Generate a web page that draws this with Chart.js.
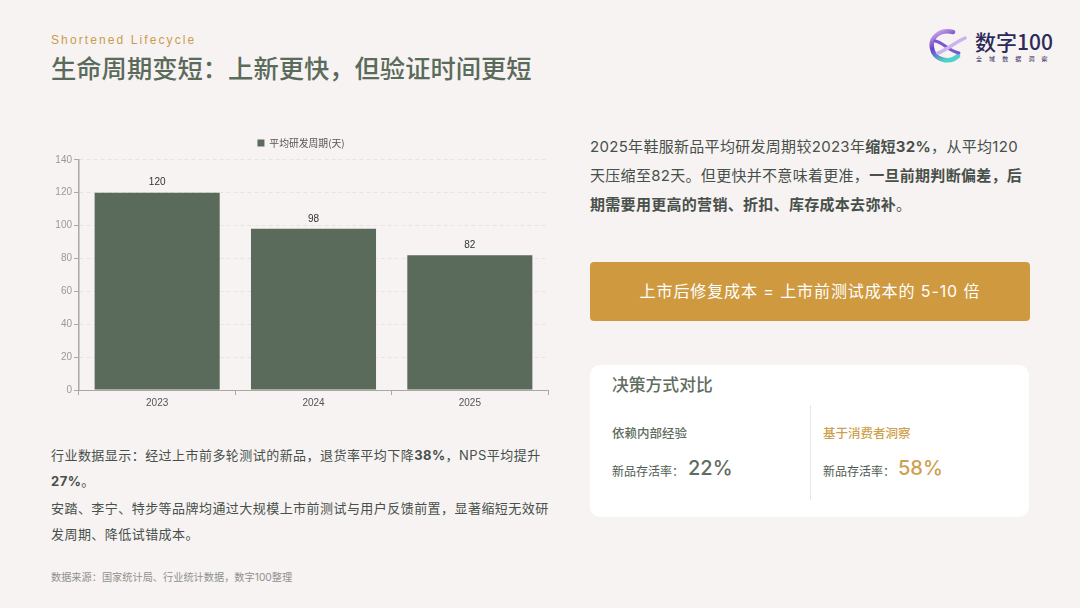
<!DOCTYPE html>
<html lang="zh">
<head>
<meta charset="utf-8">
<title>生命周期变短</title>
<script src="https://cdn.jsdelivr.net/npm/chart.js@4/dist/chart.umd.js"></script>
<style>
  html, body { margin: 0; padding: 0; }
  body { width: 1080px; height: 608px; position: relative; overflow: hidden; background: #f7f3f2;
    font-family: "Inter", "Noto Sans CJK SC", "Noto Sans", sans-serif; color: #4e5a50; }
  .abs { position: absolute; white-space: nowrap; }
  #wrap { position: absolute; left: 54px; top: 128px; width: 506px; height: 287px; }
  b { font-weight: 700; }
  .para { line-height: 29px; font-size: 15px; letter-spacing: 0.3px; color: #47504a; }
  .small { line-height: 26.3px; font-size: 13px; letter-spacing: 0.45px; color: #47504a; }
  #callout { position: absolute; left: 590px; top: 262px; width: 440px; height: 59px; border-radius: 4px;
    background: #cf9a3f; color: #fff; font-size: 16px; letter-spacing: 0.9px; line-height: 59px; text-align: center; }
  #card { position: absolute; left: 590px; top: 365px; width: 439px; height: 152px; border-radius: 10px; background: #fff; }
  #divider { position: absolute; left: 810px; top: 405px; width: 1px; height: 95px; background: #e6e6e4; }
</style>
</head>
<body>
<div class="abs" style="left:51px;top:33px;font-size:12px;letter-spacing:2.1px;color:#c99c4c;font-family:'Liberation Sans',sans-serif;">Shortened Lifecycle</div>
<div class="abs" style="left:51px;top:49px;font-size:25.3px;font-weight:500;color:#5a6a5b;">生命周期变短：上新更快，但验证时间更短</div>

<svg class="abs" style="left:929px;top:28px;" width="42" height="38" viewBox="0 0 42 38">
  <defs>
    <linearGradient id="ring" x1="0" y1="0" x2="0.5" y2="1">
      <stop offset="0" stop-color="#d9b8ee"/><stop offset="0.5" stop-color="#6a3fc8"/><stop offset="1" stop-color="#4fd0c8"/>
    </linearGradient>
  </defs>
  <path d="M24 4 C10 1 1 10 3 20 C5 32 20 36 29 28" fill="none" stroke="url(#ring)" stroke-width="4.5" stroke-linecap="round"/>
  <path d="M6 13 C14 14 18 22 30 25" fill="none" stroke="#7a55d6" stroke-width="3" stroke-linecap="round"/>
  <path d="M9 25 C17 22 27 14 36 10" fill="none" stroke="#c9b4ef" stroke-width="3.5" stroke-linecap="round"/>
</svg>
<div class="abs" style="left:975px;top:26px;font-size:21px;font-weight:500;color:#2c2a5a;font-family:'Noto Sans CJK SC',sans-serif;">数字100</div>
<div class="abs" style="left:976px;top:54px;font-size:6px;letter-spacing:7.1px;color:#2c2a5a;font-family:'Noto Sans CJK SC',sans-serif;">全域数据洞察</div>

<div id="wrap"><canvas id="c"></canvas></div>

<div class="abs small" style="left:51px;top:442px;">行业数据显示：经过上市前多轮测试的新品，退货率平均下降<b>38%</b>，NPS平均提升<br><b>27%</b>。<br>安踏、李宁、特步等品牌均通过大规模上市前测试与用户反馈前置，显著缩短无效研<br>发周期、降低试错成本。</div>
<div class="abs" style="left:51px;top:569px;font-size:10.2px;color:#8e918c;">数据来源：国家统计局、行业统计数据，数字100整理</div>

<div class="abs para" style="left:590px;top:132px;">2025年鞋服新品平均研发周期较2023年<b>缩短32%</b>，从平均120<br>天压缩至82天。但更快并不意味着更准，<b>一旦前期判断偏差，后</b><br><b>期需要用更高的营销、折扣、库存成本去弥补</b>。</div>

<div id="callout">上市后修复成本 = 上市前测试成本的 5-10 倍</div>

<div id="card"></div>
<div id="divider"></div>
<div class="abs" style="left:612px;top:372px;font-size:16.8px;font-weight:500;color:#5f6d60;">决策方式对比</div>
<div class="abs" style="left:612px;top:423px;font-size:12.5px;font-weight:500;color:#5f6d60;">依赖内部经验</div>
<div class="abs" style="left:823px;top:423px;font-size:12.5px;font-weight:500;color:#cf9f50;">基于消费者洞察</div>
<div class="abs" style="left:612px;top:462px;font-size:12px;color:#4e5a50;">新品存活率：</div>
<div class="abs" style="left:823px;top:462px;font-size:12px;color:#4e5a50;">新品存活率：</div>
<div class="abs" style="left:688px;top:456px;font-size:20px;font-weight:500;color:#5f6d60;">22%</div>
<div class="abs" style="left:898px;top:456px;font-size:20px;font-weight:500;color:#cf9f50;">58%</div>

<script>
const categories = ['2023', '2024', '2025'];
const devDays = [120, 98, 82];
const seriesName = '平均研发周期(天)';
const yMax = 140;
const yStep = 20;

// draws the number above each bar
const barValues = {
  id: 'barValues',
  afterDatasetsDraw(chart) {
    const ctx = chart.ctx;
    ctx.save();
    ctx.font = '10px "Liberation Sans", sans-serif';
    ctx.fillStyle = '#333';
    ctx.textAlign = 'center';
    ctx.textBaseline = 'bottom';
    chart.getDatasetMeta(0).data.forEach((bar, i) => {
      ctx.fillText(devDays[i], bar.x, bar.y - 5);
    });
    ctx.restore();
  }
};

// a bit more room under the legend
const legendGap = {
  id: 'legendGap',
  beforeInit(chart) {
    const fit = chart.legend.fit;
    chart.legend.fit = function () {
      fit.call(this);
      this.height += 2;
    };
  }
};

new Chart(document.getElementById('c'), {
  type: 'bar',
  data: {
    labels: categories,
    datasets: [{
      label: seriesName,
      data: devDays,
      backgroundColor: '#5a6a5b',
      borderColor: '#5a6a5b',
      categoryPercentage: 0.8,
      barPercentage: 1
    }]
  },
  options: {
    responsive: true,
    maintainAspectRatio: false,
    animation: false,
    layout: { padding: { right: 12, top: 0 } },
    plugins: {
      tooltip: { enabled: false },
      legend: {
        position: 'top',
        labels: {
          boxWidth: 7, boxHeight: 7, padding: 10,
          color: '#555',
          font: { size: 9.8, family: '"Noto Sans CJK SC", sans-serif' }
        }
      }
    },
    scales: {
      x: {
        grid: { display: true, drawOnChartArea: false, tickLength: 5, color: '#a8a8a4' },
        border: { color: '#a8a8a4' },
        ticks: { color: '#555', padding: 2, font: { size: 10, family: '"Liberation Sans", sans-serif' }, maxRotation: 0 },
        afterFit(axis) { axis.height = 25; }
      },
      y: {
        min: 0,
        max: yMax,
        grid: { color: '#e9e4e1', tickColor: '#a8a8a4', tickLength: 5 },
        border: { color: '#a8a8a4', width: 1.5, dash: [4, 3] },
        ticks: { stepSize: yStep, color: '#999', padding: 2, font: { size: 10, family: '"Liberation Sans", sans-serif' } },
        afterFit(axis) { axis.width = 25; }
      }
    }
  },
  plugins: [barValues, legendGap]
});
</script>
</body>
</html>
